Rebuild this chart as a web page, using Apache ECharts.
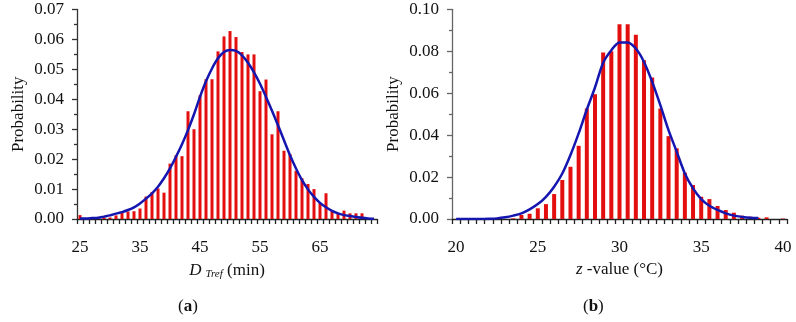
<!DOCTYPE html>
<html>
<head>
<meta charset="utf-8">
<script src="https://cdn.jsdelivr.net/npm/echarts@6/dist/echarts.min.js"></script>
<style>
  body { margin: 0; background: #fff; }
  #chart { width: 796px; height: 322px; }
</style>
</head>
<body>
<div id="chart"></div>
<script>
// (a) D_Tref histogram, bins of 1 min
const dBins = [25, 26, 27, 28, 29, 30, 31, 32, 33, 34, 35, 36, 37, 38, 39, 40, 41, 42, 43, 44, 45, 46, 47, 48, 49,
  50, 51, 52, 53, 54, 55, 56, 57, 58, 59, 60, 61, 62, 63, 64, 65, 66, 67, 68, 69, 70, 71, 72, 73];
const dProb = [0.0013, 0.0002, 0.0003, 0.0003, 0.0005, 0.0005, 0.0012, 0.0020, 0.0025, 0.0026, 0.0035, 0.0075, 0.0090,
  0.0102, 0.0088, 0.0185, 0.0213, 0.0210, 0.0360, 0.0300, 0.0413, 0.0467, 0.0467, 0.0560, 0.0610,
  0.0628, 0.0608, 0.0558, 0.0550, 0.0550, 0.0427, 0.0466, 0.0283, 0.0360, 0.0228, 0.0217, 0.0161, 0.0136, 0.0117,
  0.0100, 0.0054, 0.0086, 0.0030, 0.0019, 0.0028, 0.0019, 0.0019, 0.0019, 0.0003];
const dFitX = [25, 26, 27, 28, 29, 30, 31, 32, 33, 34, 35, 36, 37, 38, 39, 40, 41, 42, 43, 44, 45, 46, 47, 48, 49,
  50, 51, 52, 53, 54, 55, 56, 57, 58, 59, 60, 61, 62, 63, 64, 65, 66, 67, 68, 69, 70, 71, 72, 73, 74];
const dFit = [0.0002, 0.0002, 0.0003, 0.0004, 0.0008, 0.0012, 0.0018, 0.0023, 0.0030, 0.0039, 0.0052, 0.0068, 0.0086,
  0.0108, 0.0136, 0.0169, 0.0208, 0.0250, 0.0297, 0.0350, 0.0408, 0.0460, 0.0503, 0.0537, 0.0558,
  0.0565, 0.0562, 0.0547, 0.0522, 0.0490, 0.0452, 0.0408, 0.0362, 0.0313, 0.0263, 0.0213, 0.0169, 0.0130, 0.0099,
  0.0074, 0.0054, 0.0039, 0.0027, 0.0019, 0.0013, 0.0010, 0.0007, 0.0004, 0.0002, 0.0001];
const dTicks = [25, 35, 45, 55, 65];

// (b) z-value histogram, bins of 0.5 °C
const zBins = [23.5, 24, 24.5, 25, 25.5, 26, 26.5, 27, 27.5, 28, 28.5, 29, 29.5, 30, 30.5, 31, 31.5, 32, 32.5,
  33, 33.5, 34, 34.5, 35, 35.5, 36, 36.5, 37, 37.5, 38, 38.5, 39, 39.5, 40];
const zProb = [0.0003, 0.0019, 0.0025, 0.0051, 0.0071, 0.0119, 0.0186, 0.0249, 0.0349, 0.0527, 0.0595, 0.0794, 0.0800,
  0.0929, 0.0929, 0.0879, 0.0757, 0.0675, 0.0527, 0.0395, 0.0337, 0.0221, 0.0162, 0.0106, 0.0095, 0.0062,
  0.0043, 0.0030, 0.0016, 0.0011, 0.0006, 0.0008, 0.0000, 0.0002];
const zFitX = [20, 20.5, 21, 21.5, 22, 22.5, 23, 23.5, 24, 24.5, 25, 25.5, 26, 26.5, 27, 27.5, 28, 28.5, 29, 29.5,
  30, 30.5, 31, 31.5, 32, 32.5, 33, 33.5, 34, 34.5, 35, 35.5, 36, 36.5, 37, 37.5, 38, 38.5];
const zFit = [0, 0, 0, 0, 0.0001, 0.0003, 0.0008, 0.0016, 0.0027, 0.0046, 0.0071, 0.0106, 0.0154, 0.0217, 0.0305,
  0.0408, 0.0522, 0.0627, 0.0745, 0.0805, 0.0842, 0.0842, 0.0813, 0.0749, 0.0654, 0.0543, 0.0424, 0.0321,
  0.0217, 0.0146, 0.0095, 0.0063, 0.0043, 0.0027, 0.0016, 0.0010, 0.0006, 0.0005];
const zTicks = [20, 25, 30, 35, 40];

const FONT = 'Liberation Serif';
const RED = '#e30f0f';
const BLUE = '#1515b0';

const pairs = (xs, ys) => xs.map((x, i) => [x, ys[i]]);
// tick marks sit on the bin edges
const edges = (from, step, n) => Array.from({length: n}, (_, i) => from + i * step);

const yAxisBase = (max, interval, lineColor) => ({
  type: 'value',
  min: 0,
  max: max,
  interval: interval,
  name: 'Probability',
  nameLocation: 'middle',
  nameGap: 50,
  nameTextStyle: {fontFamily: FONT, fontSize: 17, color: '#111'},
  axisLine: {show: true, lineStyle: {color: lineColor, width: 1.3}},
  axisTick: {show: true, length: 5, lineStyle: {color: lineColor, width: 1.3}},
  minorTick: {show: true, splitNumber: 2, length: 3, lineStyle: {color: lineColor, width: 1.3}},
  splitLine: {show: false},
  axisLabel: {
    fontFamily: FONT, fontSize: 17, color: '#111', margin: 13,
    formatter: (v) => v.toFixed(2),
  },
});

const option = {
  animation: false,
  backgroundColor: '#fff',
  grid: [
    {left: 77, top: 9.5, width: 300, height: 209.5, outerBoundsMode: 'none'},
    {left: 452, top: 9.3, width: 335, height: 209.7, outerBoundsMode: 'none'},
  ],
  xAxis: [
    {
      gridIndex: 0,
      type: 'value',
      min: 24.5,
      max: 74.5,
      name: '{i|D}{s|Tref}{n| (min)}',
      nameLocation: 'middle',
      nameGap: 42,
      nameTextStyle: {
        rich: {
          i: {fontFamily: FONT, fontSize: 17, fontStyle: 'italic', color: '#111', padding: [0, 4, 0, 0]},
          s: {fontFamily: FONT, fontSize: 11, fontStyle: 'italic', color: '#111', padding: [8, 0, 0, 0]},
          n: {fontFamily: FONT, fontSize: 17, color: '#111'},
        },
      },
      axisLine: {lineStyle: {color: '#222', width: 1.3}},
      axisTick: {length: 5, customValues: edges(24.5, 1, 51), lineStyle: {color: '#222', width: 1.3}},
      axisLabel: {customValues: dTicks, fontFamily: FONT, fontSize: 17, color: '#111', margin: 20},
      splitLine: {show: false},
    },
    {
      gridIndex: 1,
      type: 'value',
      min: 19.75,
      max: 40.25,
      name: '{i|z}{n| -value (°C)}',
      nameLocation: 'middle',
      nameGap: 42,
      nameTextStyle: {
        rich: {
          i: {fontFamily: FONT, fontSize: 17, fontStyle: 'italic', color: '#111'},
          n: {fontFamily: FONT, fontSize: 17, color: '#111'},
        },
      },
      axisLine: {lineStyle: {color: '#222', width: 1.3}},
      axisTick: {length: 5, customValues: edges(19.75, 0.5, 42), lineStyle: {color: '#222', width: 1.3}},
      axisLabel: {customValues: zTicks, fontFamily: FONT, fontSize: 17, color: '#111', margin: 20},
      splitLine: {show: false},
    },
  ],
  yAxis: [
    Object.assign(yAxisBase(0.07, 0.01, '#333'), {gridIndex: 0}),
    Object.assign(yAxisBase(0.10, 0.02, '#666'), {gridIndex: 1}),
  ],
  series: [
    {
      type: 'bar', xAxisIndex: 0, yAxisIndex: 0,
      barWidth: 3,
      itemStyle: {color: RED},
      data: pairs(dBins, dProb),
    },
    {
      type: 'line', xAxisIndex: 0, yAxisIndex: 0,
      smooth: 0.3, showSymbol: false,
      lineStyle: {color: BLUE, width: 2.5},
      data: pairs(dFitX, dFit),
    },
    {
      type: 'bar', xAxisIndex: 1, yAxisIndex: 1,
      barWidth: 4,
      itemStyle: {color: RED},
      data: pairs(zBins, zProb),
    },
    {
      type: 'line', xAxisIndex: 1, yAxisIndex: 1,
      smooth: 0.3, showSymbol: false,
      lineStyle: {color: BLUE, width: 2.5},
      data: pairs(zFitX, zFit),
    },
  ],
  graphic: [
    {
      type: 'text', left: 178, top: 298,
      style: {
        text: '{p|(}{b|a}{p|)}',
        rich: {
          p: {fontFamily: FONT, fontSize: 17, fill: '#111'},
          b: {fontFamily: FONT, fontSize: 17, fontWeight: 'bold', fill: '#111'},
        },
      },
    },
    {
      type: 'text', left: 583, top: 298,
      style: {
        text: '{p|(}{b|b}{p|)}',
        rich: {
          p: {fontFamily: FONT, fontSize: 17, fill: '#111'},
          b: {fontFamily: FONT, fontSize: 17, fontWeight: 'bold', fill: '#111'},
        },
      },
    },
  ],
};

const chart = echarts.init(document.getElementById('chart'));
chart.setOption(option);
</script>
</body>
</html>
